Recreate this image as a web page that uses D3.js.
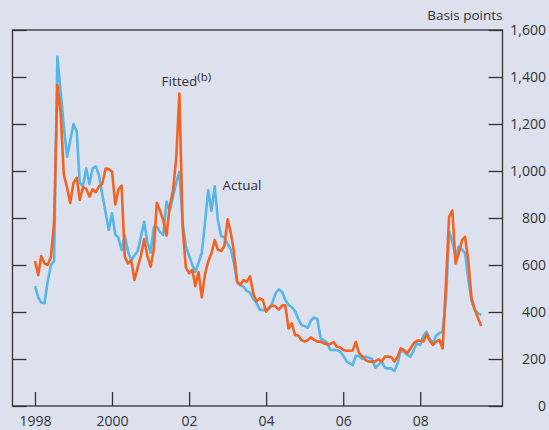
<!DOCTYPE html>
<html>
<head>
<meta charset="utf-8">
<script src="https://cdn.jsdelivr.net/npm/d3@7"></script>
<style>
  body { margin: 0; background: #dde1ed; }
  svg { display: block; }
  text { font-family: "Open Sans", sans-serif; fill: #333; }
</style>
</head>
<body>
<script>
// monthly, Jan 1998 .. Aug 2009
var months = d3.timeMonth.range(new Date(1998, 0, 1), new Date(2009, 8, 1));

// Actual spread, basis points
var actual = [
  510, 462, 440, 437, 530, 600, 617, 1486, 1340, 1190, 1061, 1130,
  1200, 1167, 950, 935, 1011, 945, 1010, 1020, 980, 900, 825, 749,
  820, 730, 716, 664, 725, 657, 621, 640, 660, 720, 784, 700,
  652, 763, 763, 740, 728, 870, 830, 890, 950, 997, 780, 680,
  640, 600, 570, 610, 650, 780, 918, 830, 935, 790, 722, 718,
  690, 665, 610, 527, 515, 508, 490, 482, 455, 440, 410, 408,
  410, 415, 440, 480, 496, 485, 451, 430, 420, 404, 370, 345,
  340, 333, 365, 376, 370, 288, 280, 270, 238, 238, 238, 231,
  215, 191, 182, 174, 214, 212, 200, 210, 205, 200, 163, 175,
  189, 163, 160, 160, 149, 182, 238, 231, 217, 210, 238, 267,
  260, 300, 316, 285, 268, 300, 310, 318, 451, 742, 700, 640,
  678, 665, 650, 540, 450, 410, 395, 387
];

// Fitted spread (b), basis points
var fitted = [
  617, 557, 638, 607, 600, 635, 780, 1366, 1250, 985, 930, 864,
  949, 972, 877, 930, 925, 891, 922, 910, 935, 945, 1010, 1008,
  998, 858, 920, 938, 635, 607, 621, 536, 590, 640, 710, 640,
  593, 668, 865, 830, 790, 725, 850, 915, 1055, 1330, 760, 590,
  565, 579, 510, 570, 462, 560, 615, 650, 706, 665, 660, 680,
  794, 735, 660, 530, 515, 536, 528, 552, 480, 445, 458, 451,
  401, 420, 428, 423, 410, 428, 428, 330, 352, 302, 300, 281,
  274, 281, 292, 281, 274, 274, 267, 262, 264, 272, 252, 250,
  238, 235, 235, 236, 272, 224, 213, 195, 189, 189, 190, 199,
  189, 210, 210, 208, 189, 210, 245, 238, 224, 245, 267, 278,
  278, 274, 306, 278, 260, 274, 281, 245, 520, 806, 831, 607,
  650, 706, 720, 620, 460, 410, 375, 340
];

var xTicks = [1998, 2000, 2002, 2004, 2006, 2008];
var xTickLabels = ["1998", "2000", "02", "04", "06", "08"];
var yTicks = [0, 200, 400, 600, 800, 1000, 1200, 1400, 1600];

var w = 549, h = 430;
// plot frame ("top" is taken by window.top, so use other names)
var plotL = 12.5, plotR = 502.5, plotT = 30, plotB = 406;

var svg = d3.select("body").append("svg")
  .attr("width", w)
  .attr("height", h);

svg.append("rect")
  .attr("width", w).attr("height", h)
  .attr("fill", "#dde1ed");

var x = d3.scaleTime()
  .domain([new Date(1998, 0, 1), new Date(2008, 0, 1)])
  .range([35, 420.2]);

var y = d3.scaleLinear()
  .domain([0, 1600])
  .range([plotB, plotT]);

// frame
svg.append("rect")
  .attr("x", plotL).attr("y", plotT)
  .attr("width", plotR - plotL).attr("height", plotB - plotT)
  .attr("fill", "none")
  .attr("stroke", "#333")
  .attr("stroke-width", 1.3);

// bottom axis, ticks pointing up
var xAxis = svg.append("g")
  .attr("transform", "translate(0," + plotB + ")")
  .call(d3.axisBottom(x)
    .tickValues(xTicks.map(function(d) { return new Date(d, 0, 1); }))
    .tickFormat(function(d, i) { return xTickLabels[i]; })
    .tickSize(-14)
    .tickPadding(10));

// left axis, ticks only
var yLeft = svg.append("g")
  .attr("transform", "translate(" + plotL + ",0)")
  .call(d3.axisLeft(y).tickValues(yTicks).tickFormat("").tickSize(-14));

// right axis with labels
var yRight = svg.append("g")
  .attr("transform", "translate(" + plotR + ",0)")
  .call(d3.axisRight(y).tickValues(yTicks).tickFormat(d3.format(",")).tickSize(-14));

yRight.selectAll("text")
  .attr("x", 43.5)
  .attr("text-anchor", "end");

[xAxis, yLeft, yRight].forEach(function(g) {
  g.select(".domain").remove();
  g.selectAll(".tick line").attr("stroke", "#333").attr("stroke-width", 1.3);
  g.selectAll("text")
    .attr("font-family", "Open Sans, sans-serif")
    .attr("font-size", "14px")
    .attr("fill", "#333");
});

svg.append("text")
  .attr("x", plotR)
  .attr("y", 20)
  .attr("text-anchor", "end")
  .attr("font-size", "13.5px")
  .text("Basis points");

var line = d3.line()
  .x(function(d, i) { return x(months[i]); })
  .y(function(d) { return y(d); });

svg.append("path")
  .datum(actual)
  .attr("d", line)
  .attr("fill", "none")
  .attr("stroke", "#58b6e6")
  .attr("stroke-width", 2.6)
  .attr("stroke-linejoin", "round");

svg.append("path")
  .datum(fitted)
  .attr("d", line)
  .attr("fill", "none")
  .attr("stroke", "#f26322")
  .attr("stroke-width", 2.6)
  .attr("stroke-linejoin", "round");

// labels
var ft = svg.append("text")
  .attr("x", 161.5)
  .attr("y", 86)
  .attr("font-size", "13.5px")
  .text("Fitted");
ft.append("tspan")
  .attr("dy", -5)
  .attr("font-size", "11.5px")
  .text("(b)");

svg.append("text")
  .attr("x", 222.5)
  .attr("y", 190)
  .attr("font-size", "13.5px")
  .text("Actual");
</script>
</body>
</html>
